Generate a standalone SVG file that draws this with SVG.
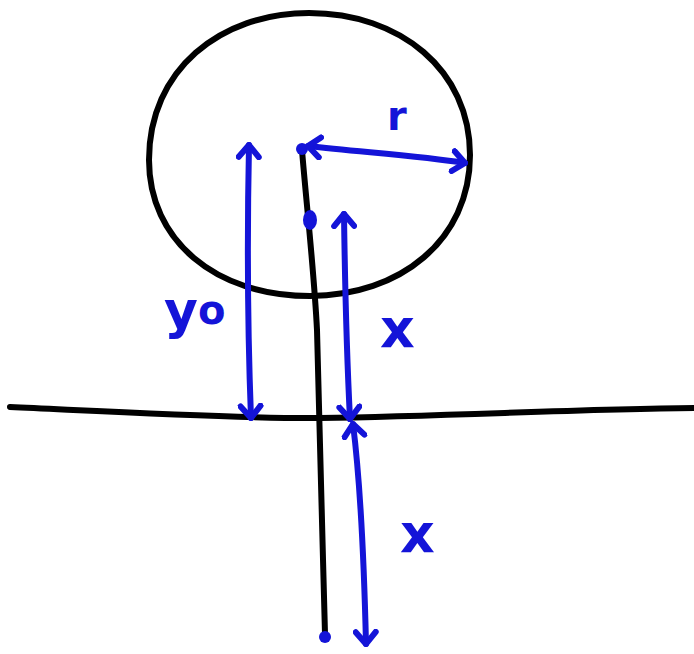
<svg xmlns="http://www.w3.org/2000/svg" width="694" height="654" viewBox="0 0 694 654">
<style>
.k{fill:none;stroke:#000;stroke-width:6;stroke-linecap:round;stroke-linejoin:round}
.b{fill:none;stroke:#1414d8;stroke-width:6;stroke-linecap:round;stroke-linejoin:round}
.d{fill:#1414d8}
.t{fill:#1414d8;font-family:"DejaVu Sans",sans-serif;font-weight:bold}
</style>
<defs>
<marker id="ah" viewBox="-15 -13 18 26" markerWidth="18" markerHeight="26" refX="0" refY="0" orient="auto-start-reverse" markerUnits="userSpaceOnUse">
<path d="M-12,-10 L0,0 L-12,10" fill="none" stroke="#1414d8" stroke-width="6" stroke-linecap="round" stroke-linejoin="round"/>
</marker>
</defs>
<rect width="694" height="654" fill="#fff"/>
<g id="circle"><path class="k" d="M309,13 C400,13 470,70 470,155 C470,240 400,296 310,296 C215,296 149,240 149,160 C149,70 220,13 309,13 Z"/></g>
<g id="ground"><path class="k" d="M10,407 C120,412 250,419 320,418 C450,416 580,409 694,408"/></g>
<g id="rod"><path class="k" d="M302,150 C306,200 314,270 317,330 C320,420 322,530 325,634"/></g>
<g id="points">
<circle class="d" cx="302" cy="149" r="6"/>
<ellipse class="d" cx="310" cy="220" rx="7" ry="10"/>
<circle class="d" cx="325" cy="637" r="6"/>
</g>
<g id="connectors">
<path class="b" d="M308,146 C360,152 420,156 465,163" marker-start="url(#ah)" marker-end="url(#ah)"/>
<path class="b" d="M249,145 C247,240 248,340 251,418" marker-start="url(#ah)" marker-end="url(#ah)"/>
<path class="b" d="M344,214 C345,290 347,360 350,419" marker-start="url(#ah)" marker-end="url(#ah)"/>
<path class="b" d="M353,424 C360,480 364,560 366,644" marker-start="url(#ah)" marker-end="url(#ah)"/>
</g>
<g id="labels">
<text class="t" x="387" y="130" font-size="40">r</text>
<text class="t" x="164" y="328" font-size="52">y<tspan font-size="40" dy="-4">o</tspan></text>
<text class="t" x="380" y="347" font-size="54">x</text>
<text class="t" x="400" y="552" font-size="54">x</text>
</g>
</svg>
